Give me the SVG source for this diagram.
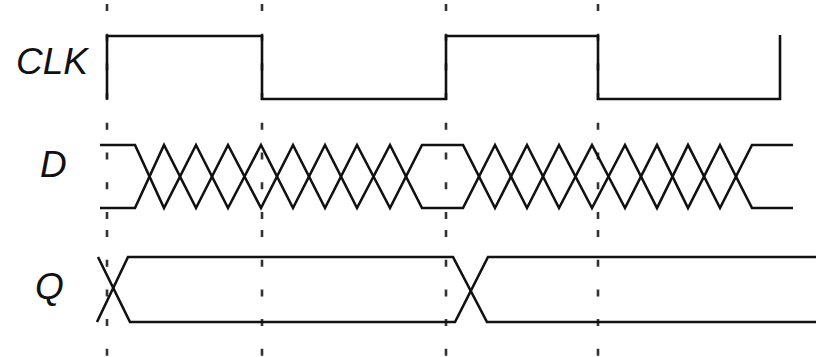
<svg xmlns="http://www.w3.org/2000/svg" width="816" height="357" viewBox="0 0 816 357">
<style>
.grid{stroke:#333;stroke-width:2.6;stroke-dasharray:7 22.7;fill:none}
.sig{stroke:#111;stroke-width:2.6;fill:none;stroke-linejoin:miter;stroke-linecap:butt}
.lbl{font-family:"Liberation Sans",Arial,sans-serif;font-style:italic;font-size:37px;fill:#111}
</style>
<rect width="816" height="357" fill="#fff"/>
<g id="gridlines">
<line class="grid" x1="107" y1="4" x2="107" y2="222"/>
<line class="grid" x1="107" y1="230" x2="107" y2="357"/>
<line class="grid" x1="262" y1="4" x2="262" y2="222"/>
<line class="grid" x1="262" y1="230" x2="262" y2="357"/>
<line class="grid" x1="446" y1="4" x2="446" y2="222"/>
<line class="grid" x1="446" y1="230" x2="446" y2="357"/>
<line class="grid" x1="598" y1="4" x2="598" y2="222"/>
<line class="grid" x1="598" y1="230" x2="598" y2="357"/>
</g>
<g id="clk">
<text class="lbl" x="16" y="74">CLK</text>
<path class="sig" d="M107,99 V36 H262 V99 H446 V36 H598 V99 H780 V35"/>
</g>
<g id="d">
<text class="lbl" x="40" y="177">D</text>
<path class="sig" d="M100,145 H135 L164,208 L196,145 L228,208 L261,145 L293,208 L325,145 L357,208 L390,145 L422,208 H463 L495,145 L527,208 L559,145 L592,208 L625,145 L657,208 L688,145 L720,208 L752,145 H793"/>
<path class="sig" d="M100,208 H135 L164,145 L196,208 L228,145 L261,208 L293,145 L325,208 L357,145 L390,208 L422,145 H463 L495,208 L527,145 L559,208 L592,145 L625,208 L657,145 L688,208 L720,145 L752,208 H793"/>
</g>
<g id="q">
<text class="lbl" x="35" y="299">Q</text>
<path class="sig" d="M98,257 L130,322 H455 L488,257 H816"/>
<path class="sig" d="M97,322 L128,257 H453 L487,322 H816"/>
</g>
</svg>
